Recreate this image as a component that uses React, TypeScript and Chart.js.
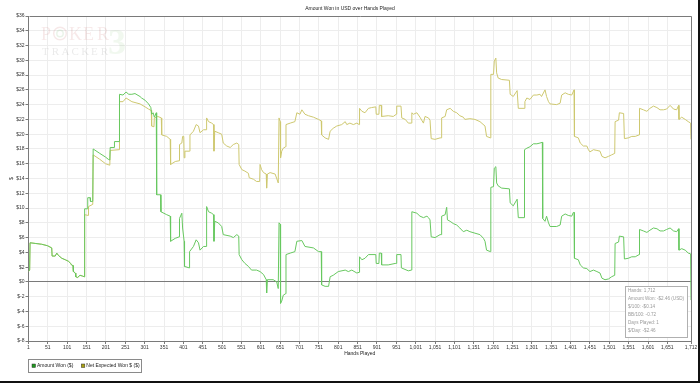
import React, { useEffect, useRef } from 'react';
import { Chart, registerables } from 'chart.js';

Chart.register(...registerables);

// ---------- data ----------
const TITLE = 'Amount Won in USD over Hands Played';
const X_TITLE = 'Hands Played';
const Y_TITLE = '$';
const SERIES_NAMES = ['Amount Won ($)', 'Net Expected Won $ ($)'];
const INFO_LINES = [
  'Hands: 1,712',
  'Amount Won: -$2.46 (USD)',
  '$/100: -$0.14',
  'BB/100: -0.72',
  'Days Played: 1',
  '$/Day: -$2.46',
];

const X_TICKS = [
  1, 51, 101, 151, 201, 251, 301, 351, 401, 451, 501, 551, 601, 651, 701, 751, 801, 851,
  901, 951, 1001, 1051, 1101, 1151, 1201, 1251, 1301, 1351, 1401, 1451, 1501, 1551,
  1601, 1651, 1712,
];
const Y_MIN = -8;
const Y_MAX = 36;
const Y_STEP = 2;

const WON_HANDS = [
  1, 4, 5, 20, 35, 50, 61, 62, 70, 74,
  78, 87, 96, 104, 110, 112, 116, 117, 122, 123,
  128, 134, 140, 145, 146, 153, 154, 160, 161, 167,
  168, 185, 200, 207, 211, 212, 222, 223, 235, 236,
  245, 253, 260, 268, 276, 289, 293, 302, 311, 317,
  319, 323, 326, 331, 332, 342, 343, 358, 367, 368,
  380, 390, 391, 397, 399, 403, 404, 416, 417, 427,
  434, 440, 444, 453, 460, 461, 466, 474, 479, 480,
  482, 491, 500, 504, 522, 530, 539, 544, 545, 552,
  560, 569, 577, 590, 599, 608, 615, 616, 618, 633,
  642, 646, 647, 648, 651, 652, 655, 659, 665, 666,
  677, 689, 694, 707, 715, 737, 750, 757, 758, 767,
  776, 780, 788, 801, 819, 827, 836, 849, 855, 856,
  862, 870, 879, 898, 899, 906, 907, 912, 913, 930,
  948, 951, 952, 963, 964, 982, 990, 991, 1004, 1012,
  1021, 1030, 1034, 1038, 1041, 1051, 1064, 1067, 1068, 1077,
  1081, 1083, 1090, 1098, 1107, 1115, 1124, 1133, 1141, 1154,
  1167, 1176, 1180, 1184, 1194, 1195, 1202, 1204, 1208, 1210,
  1214, 1223, 1243, 1245, 1253, 1263, 1265, 1266, 1281, 1282,
  1288, 1296, 1305, 1314, 1322, 1328, 1329, 1335, 1339, 1344,
  1348, 1365, 1374, 1378, 1387, 1395, 1404, 1408, 1410, 1411,
  1421, 1426, 1434, 1443, 1451, 1460, 1469, 1477, 1482, 1490,
  1499, 1507, 1515, 1516, 1525, 1527, 1538, 1540, 1550, 1559,
  1568, 1578, 1579, 1589, 1598, 1606, 1615, 1624, 1632, 1641,
  1649, 1658, 1667, 1675, 1680, 1681, 1688, 1697, 1705, 1711,
  1712,
];
const WON_VALUES = [
  1.4, 1.6, 5.3, 5.2, 5.1, 4.9, 4.6, 3.5, 3.5, 3.9,
  3.6, 3.2, 3.0, 2.8, 2.5, 2.3, 2.2, 1.4, 1.2, 0.7,
  0.6, 0.9, 0.8, 0.7, 9.9, 9.9, 11.4, 11.4, 10.9, 10.9,
  18.0, 17.4, 16.9, 16.6, 16.5, 18.2, 18.2, 19.0, 19.0, 25.4,
  25.3, 25.7, 25.4, 25.4, 25.5, 25.1, 24.9, 24.6, 24.1, 23.6,
  22.7, 22.9, 22.3, 22.9, 11.8, 11.8, 9.5, 9.1, 8.9, 5.5,
  5.9, 6.1, 8.6, 9.3, 7.3, 5.5, 2.1, 1.9, 4.1, 4.8,
  5.7, 5.3, 4.3, 4.8, 4.8, 10.2, 9.5, 9.3, 9.1, 5.5,
  8.2, 8.0, 7.5, 6.4, 6.2, 6.0, 6.4, 6.2, 3.7, 3.0,
  2.5, 2.1, 1.6, 1.6, 1.4, 1.0, 0.3, -1.5, 0.3, 0.3,
  0.0, -0.9, -0.9, 8.0, 7.8, -2.9, -2.6, -1.8, -1.6, 3.7,
  3.9, 4.1, 5.5, 5.6, 4.8, 4.6, 4.1, 4.1, -0.4, -0.6,
  -0.6, 0.7, 0.9, 1.4, 1.6, 1.4, 1.6, 1.2, 1.3, 3.4,
  3.0, 3.2, 3.7, 3.7, 2.5, 2.5, 3.9, 3.9, 2.3, 2.3,
  2.5, 2.5, 3.7, 3.7, 1.9, 1.5, 1.6, 9.5, 9.3, 8.9,
  8.7, 8.9, 8.7, 8.4, 6.1, 6.0, 6.4, 6.4, 8.9, 9.1,
  10.1, 8.4, 8.2, 7.9, 7.7, 7.3, 6.8, 7.0, 6.8, 6.6,
  6.4, 5.9, 5.5, 4.3, 4.1, 12.8, 12.9, 15.4, 15.6, 13.4,
  13.0, 12.7, 12.6, 10.7, 10.3, 11.2, 11.2, 8.7, 8.7, 17.9,
  18.1, 18.3, 18.7, 18.7, 18.8, 18.9, 8.6, 8.2, 8.9, 8.0,
  7.5, 7.5, 7.7, 8.9, 9.2, 9.0, 8.9, 9.4, 9.4, 3.2,
  3.0, 2.3, 1.9, 1.8, 1.4, 1.6, 1.4, 1.2, 0.5, 0.3,
  0.4, 0.7, 0.9, 5.2, 5.4, 6.2, 6.1, 3.1, 3.2, 3.4,
  3.4, 3.7, 7.1, 6.9, 6.7, 7.0, 7.3, 7.2, 6.9, 6.9,
  7.1, 7.3, 6.9, 6.8, 7.2, 4.3, 4.5, 4.3, 3.9, 3.8,
  -2.46,
];

const EXP_HANDS = [
  1, 4, 5, 20, 35, 50, 61, 62, 70, 74,
  78, 87, 96, 104, 110, 112, 116, 117, 122, 123,
  128, 134, 140, 145, 146, 155, 156, 167, 168, 185,
  200, 211, 212, 235, 236, 245, 253, 268, 289, 302,
  311, 318, 319, 325, 326, 335, 344, 345, 358, 367,
  368, 380, 390, 391, 397, 399, 402, 403, 405, 417,
  418, 427, 434, 440, 444, 453, 460, 461, 466, 474,
  479, 480, 482, 491, 500, 504, 513, 522, 530, 539,
  544, 545, 552, 560, 569, 571, 582, 590, 598, 599,
  603, 608, 615, 616, 618, 625, 638, 646, 647, 648,
  651, 652, 655, 659, 665, 666, 677, 689, 694, 702,
  707, 715, 724, 737, 750, 757, 758, 767, 776, 780,
  788, 797, 810, 819, 823, 831, 840, 849, 855, 856,
  862, 870, 879, 887, 898, 899, 906, 907, 912, 913,
  930, 943, 951, 952, 963, 965, 974, 982, 990, 991,
  995, 1004, 1012, 1021, 1025, 1034, 1038, 1041, 1051, 1064,
  1067, 1068, 1077, 1081, 1090, 1098, 1107, 1115, 1124, 1128,
  1141, 1154, 1167, 1180, 1184, 1194, 1195, 1202, 1204, 1208,
  1210, 1214, 1223, 1243, 1245, 1253, 1263, 1265, 1266, 1281,
  1283, 1288, 1296, 1305, 1314, 1322, 1326, 1335, 1339, 1344,
  1348, 1365, 1374, 1378, 1387, 1395, 1404, 1410, 1411, 1421,
  1426, 1434, 1443, 1447, 1451, 1460, 1469, 1477, 1482, 1490,
  1499, 1507, 1515, 1516, 1525, 1527, 1538, 1540, 1550, 1559,
  1568, 1578, 1579, 1589, 1598, 1606, 1615, 1624, 1632, 1641,
  1649, 1658, 1667, 1675, 1680, 1681, 1688, 1697, 1705, 1711,
  1712,
];
const EXP_VALUES = [
  1.4, 1.6, 5.3, 5.2, 5.1, 4.9, 4.6, 3.5, 3.5, 3.9,
  3.6, 3.2, 3.0, 2.8, 2.5, 2.3, 2.2, 1.4, 1.2, 0.7,
  0.6, 0.9, 0.8, 0.7, 9.1, 9.0, 10.2, 10.5, 17.2, 16.6,
  16.0, 15.8, 17.8, 17.9, 24.4, 24.4, 24.9, 24.4, 24.1, 23.7,
  23.4, 23.2, 21.1, 21.0, 22.2, 22.4, 22.2, 19.9, 19.7, 19.3,
  15.9, 16.3, 16.4, 18.6, 18.8, 19.7, 19.7, 16.8, 17.7, 17.7,
  19.9, 20.4, 21.3, 21.1, 20.2, 20.6, 20.6, 22.2, 21.7, 21.5,
  21.3, 17.7, 20.4, 20.2, 20.0, 18.8, 18.4, 18.2, 18.6, 18.8,
  18.6, 15.9, 15.2, 15.0, 14.7, 14.1, 13.9, 13.6, 13.6, 15.9,
  15.2, 14.8, 14.6, 12.7, 14.6, 14.8, 14.6, 13.4, 13.4, 22.2,
  21.7, 16.8, 17.7, 18.1, 18.3, 21.3, 21.5, 21.7, 22.9, 22.7,
  23.3, 22.7, 22.5, 22.3, 22.0, 21.8, 19.9, 19.5, 19.3, 20.4,
  20.8, 21.1, 21.3, 21.7, 21.3, 21.5, 21.3, 21.5, 21.3, 23.5,
  23.1, 22.9, 23.5, 23.6, 23.7, 22.7, 22.7, 23.9, 23.9, 22.4,
  22.5, 22.4, 22.7, 23.8, 23.8, 22.2, 22.0, 21.5, 21.5, 22.9,
  22.7, 22.9, 22.3, 21.5, 22.4, 22.2, 21.9, 19.4, 19.3, 19.5,
  19.5, 22.2, 22.4, 23.3, 23.5, 23.1, 22.9, 22.5, 22.3, 22.0,
  22.1, 22.0, 21.7, 21.1, 19.7, 19.5, 28.1, 28.1, 29.9, 30.3,
  28.3, 27.6, 27.4, 27.3, 25.4, 25.1, 25.9, 25.9, 23.5, 23.5,
  24.4, 24.9, 24.7, 25.3, 25.3, 25.4, 25.1, 26.0, 25.1, 24.4,
  24.1, 24.0, 24.2, 25.3, 25.6, 25.4, 25.3, 26.0, 19.7, 19.5,
  18.8, 18.4, 18.4, 17.9, 17.6, 17.9, 17.8, 17.7, 17.0, 16.8,
  17.0, 17.2, 17.4, 21.7, 21.9, 22.9, 22.8, 19.4, 19.5, 19.7,
  19.7, 19.9, 23.5, 23.3, 23.1, 23.5, 23.8, 23.6, 23.3, 23.3,
  23.4, 23.9, 23.4, 23.3, 23.9, 22.0, 22.3, 22.0, 21.7, 21.5,
  19.3,
];

// ---------- styles ----------
const FONT = '"Liberation Sans", Arial, Helvetica, sans-serif';
const SERIF = '"Liberation Serif", "DejaVu Serif", serif';
const LINE_COLORS = ['rgb(104,200,96)', 'rgb(206,200,112)'];
const SWATCH_COLORS = ['#1f9a1f', '#a9a010'];
const GRID = '#ededed';
const AXIS = '#7a7a7a';

const decorPlugin = {
  id: 'ptDecor',
  beforeDatasetsDraw(chart: any) {
    const ctx = chart.ctx as CanvasRenderingContext2D;
    const a = chart.chartArea;
    ctx.save();
    ctx.beginPath();
    ctx.rect(a.left, a.top, a.right - a.left, a.bottom - a.top);
    ctx.clip();
    // watermark "POKER TRACKER 3"
    ctx.textBaseline = 'alphabetic';
    ctx.textAlign = 'left';
    ctx.font = `18px ${SERIF}`;
    ctx.fillStyle = 'rgba(200,110,110,0.15)';
    const poker = [['P', 41], ['K', 69], ['E', 83], ['R', 97]] as [string, number][];
    poker.forEach(([c, x]) => ctx.fillText(c, x, 40));
    // chip as the "O"
    ctx.lineWidth = 1.4;
    ctx.strokeStyle = 'rgba(200,110,110,0.16)';
    ctx.beginPath();
    ctx.arc(60, 33.5, 6.3, 0, Math.PI * 2);
    ctx.stroke();
    ctx.strokeStyle = 'rgba(120,180,110,0.16)';
    ctx.beginPath();
    ctx.arc(60, 33.5, 3.2, 0, Math.PI * 2);
    ctx.stroke();
    ctx.font = `11px ${SERIF}`;
    ctx.fillStyle = 'rgba(150,150,150,0.2)';
    'TRACKER'.split('').forEach((c, i) => ctx.fillText(c, 42 + i * 9.8, 54.5));
    ctx.font = `bold 36px ${SERIF}`;
    ctx.fillStyle = 'rgba(120,190,100,0.1)';
    ctx.fillText('3', 108, 54);
    ctx.restore();
  },
  afterDraw(chart: any) {
    const ctx = chart.ctx as CanvasRenderingContext2D;
    const a = chart.chartArea;
    const W = chart.width;
    const H = chart.height;
    ctx.save();
    // frame top / right
    ctx.strokeStyle = AXIS;
    ctx.lineWidth = 1;
    ctx.beginPath();
    ctx.moveTo(Math.round(a.left) + 0.5, Math.round(a.top) + 0.5);
    ctx.lineTo(Math.round(a.right) + 0.5, Math.round(a.top) + 0.5);
    ctx.lineTo(Math.round(a.right) + 0.5, Math.round(a.bottom) + 0.5);
    ctx.stroke();

    // title
    ctx.fillStyle = '#222';
    ctx.font = `5px ${FONT}`;
    ctx.textAlign = 'center';
    ctx.textBaseline = 'middle';
    ctx.fillText(TITLE, W / 2, 9);
    // x title
    ctx.fillText(X_TITLE, (a.left + a.right) / 2, 354);
    // y title
    ctx.save();
    ctx.translate(12, (a.top + a.bottom) / 2);
    ctx.rotate(-Math.PI / 2);
    ctx.fillText(Y_TITLE, 0, 0);
    ctx.restore();

    // legend
    ctx.strokeStyle = '#8a8a8a';
    ctx.lineWidth = 1;
    ctx.fillStyle = '#fff';
    ctx.fillRect(28.5, 359.5, 113, 13);
    ctx.strokeRect(28.5, 359.5, 113, 13);
    ctx.textAlign = 'left';
    ctx.textBaseline = 'middle';
    ctx.font = `5px ${FONT}`;
    let lx = 32;
    SERIES_NAMES.forEach((name, i) => {
      ctx.fillStyle = SWATCH_COLORS[i];
      ctx.fillRect(lx, 364, 3.5, 3.5);
      ctx.strokeStyle = '#333';
      ctx.lineWidth = 0.5;
      ctx.strokeRect(lx, 364, 3.5, 3.5);
      ctx.fillStyle = '#222';
      ctx.fillText(name, lx + 5, 366);
      lx += ctx.measureText(name).width + 13;
    });

    // info box
    const bw = 62;
    const bh = 51;
    const bx = Math.round(a.right) - 4 - bw;
    const by = Math.round(a.bottom) - 4 - bh;
    ctx.fillStyle = '#fff';
    ctx.fillRect(bx + 0.5, by + 0.5, bw, bh);
    ctx.strokeStyle = '#b0b0b0';
    ctx.lineWidth = 1;
    ctx.strokeRect(bx + 0.5, by + 0.5, bw, bh);
    ctx.fillStyle = '#9a9a9a';
    ctx.font = `4.6px ${FONT}`;
    INFO_LINES.forEach((t, i) => ctx.fillText(t, bx + 3, by + 5 + i * 8));

    // dark edge on right and bottom of the image
    ctx.fillStyle = '#111';
    ctx.fillRect(W - 2, 0, 2, H);
    ctx.fillRect(0, H - 2, W, 2);
    ctx.restore();
  },
};

export default function App() {
  const ref = useRef<HTMLCanvasElement>(null);

  useEffect(() => {
    const canvas = ref.current;
    if (!canvas) return;
    const chart = new Chart(canvas, {
      type: 'line',
      data: {
        datasets: [
          {
            label: SERIES_NAMES[0],
            data: WON_HANDS.map((h, i) => ({ x: h, y: WON_VALUES[i] })),
            borderColor: LINE_COLORS[0],
            backgroundColor: SWATCH_COLORS[0],
            borderWidth: 1,
            pointRadius: 0,
            tension: 0,
          },
          {
            label: SERIES_NAMES[1],
            data: EXP_HANDS.map((h, i) => ({ x: h, y: EXP_VALUES[i] })),
            borderColor: LINE_COLORS[1],
            backgroundColor: SWATCH_COLORS[1],
            borderWidth: 1,
            pointRadius: 0,
            tension: 0,
          },
        ],
      },
      options: {
        responsive: false,
        animation: false,
        devicePixelRatio: 1,
        layout: { padding: { left: 0, top: 16, right: 9, bottom: 30 } },
        plugins: {
          legend: { display: false },
          title: { display: false },
          tooltip: { enabled: false },
        },
        scales: {
          x: {
            type: 'linear',
            min: 1,
            max: 1712,
            afterBuildTicks: (scale: any) => {
              scale.ticks = X_TICKS.map((v) => ({ value: v }));
            },
            afterFit: (scale: any) => {
              scale.height = 12;
            },
            ticks: {
              autoSkip: false,
              maxRotation: 0,
              minRotation: 0,
              padding: 1,
              color: '#333',
              font: { family: FONT, size: 5 },
              callback: (v: any) => Number(v).toLocaleString('en-US'),
            },
            grid: { color: GRID, tickColor: AXIS, tickLength: 3, lineWidth: 1 },
            border: { color: AXIS },
          },
          y: {
            min: Y_MIN,
            max: Y_MAX,
            afterFit: (scale: any) => {
              scale.width = 28.5;
            },
            ticks: {
              stepSize: Y_STEP,
              padding: 1,
              color: '#333',
              font: { family: FONT, size: 5 },
              callback: (v: any) => '$' + v,
            },
            grid: {
              color: (c: any) => (c.tick && c.tick.value === 0 ? AXIS : GRID),
              tickColor: AXIS,
              tickLength: 3,
              lineWidth: 1,
            },
            border: { color: AXIS },
          },
        },
      },
      plugins: [decorPlugin],
    });
    return () => chart.destroy();
  }, []);

  return (
    <div style={{ position: 'fixed', left: 0, top: 0, width: 700, height: 383, background: '#fff' }}>
      <canvas ref={ref} width={700} height={383} style={{ display: 'block', width: 700, height: 383 }} />
    </div>
  );
}
